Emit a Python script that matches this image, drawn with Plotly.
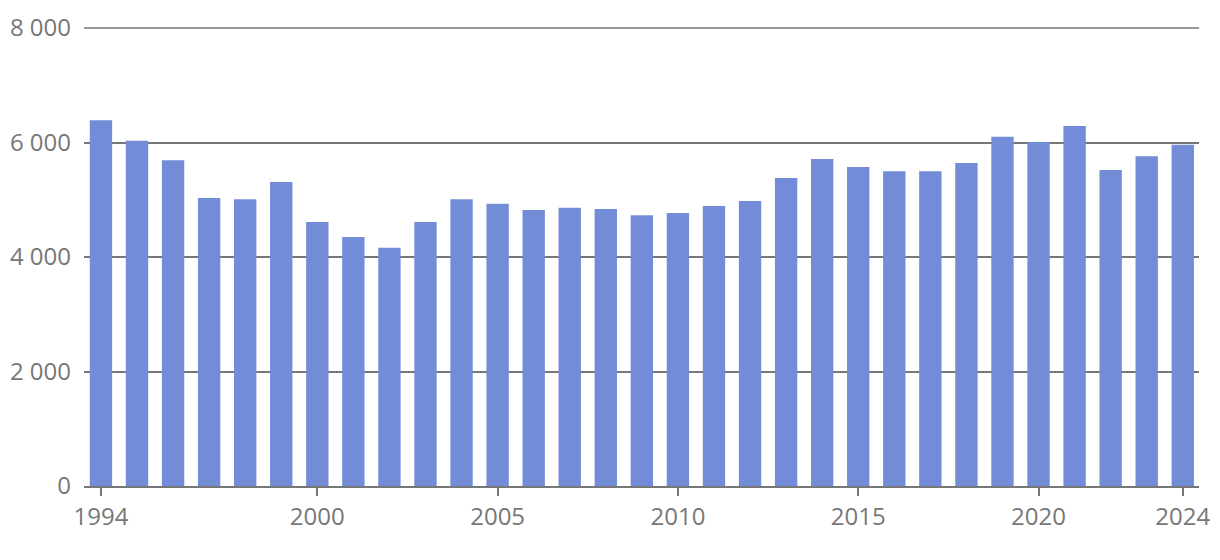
import plotly.graph_objects as go

years = list(range(1994, 2025))
values = [6390, 6030, 5690, 5030, 5010, 5310, 4610, 4350, 4160, 4610,
          5010, 4930, 4820, 4860, 4840, 4730, 4770, 4890, 4980, 5380,
          5710, 5570, 5500, 5500, 5640, 6100, 6010, 6290, 5520, 5760, 5960]
x_ticks = [1994, 2000, 2005, 2010, 2015, 2020, 2024]
y_ticks = [0, 2000, 4000, 6000, 8000]

grey = "#777777"

fig = go.Figure()
fig.add_trace(go.Bar(x=years, y=values, marker_color="#728cd8",
                     marker_line_width=0, width=0.62))

# the page body has an 8px margin, so the figure is sized to sit inside it
fig.update_layout(
    width=1204, height=544,
    margin=dict(l=76, r=13, t=20, b=66),
    plot_bgcolor="white", paper_bgcolor="white",
    separators=". ",
    font=dict(family="Open Sans", size=24, color=grey),
    showlegend=False,
)
fig.update_xaxes(
    range=[1993.53, 2024.45],
    tickvals=x_ticks,
    ticks="outside", ticklen=8, tickwidth=2, tickcolor=grey,
    showline=True, linecolor=grey, linewidth=2,
    showgrid=False, zeroline=False, automargin=False,
)
fig.update_yaxes(
    range=[0, y_ticks[-1]],
    tickvals=y_ticks, tickformat=",",
    showgrid=True, gridcolor=grey, gridwidth=1.5,
    zeroline=False, showline=False, ticks="",
    ticklabelstandoff=12, automargin=False,
)

# top gridline sits on the plot edge and plotly drops it, so draw it (paper ref, unclipped)
fig.add_shape(type="line", xref="paper", x0=0, x1=1, yref="paper",
              y0=1, y1=1, layer="below",
              line=dict(color=grey, width=1.5))

fig.write_html("out.html")
